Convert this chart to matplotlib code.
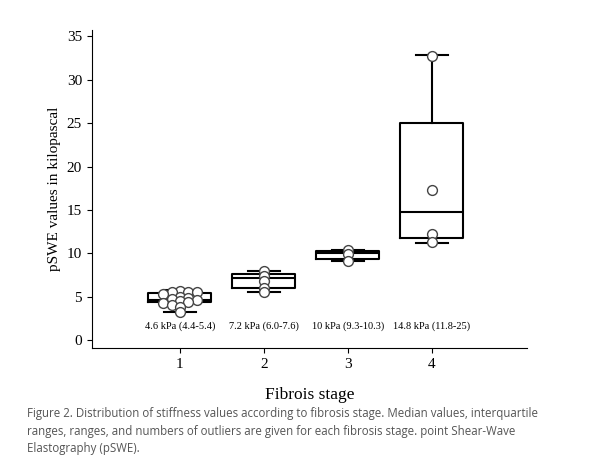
import numpy as np
import matplotlib.pyplot as plt

stages = [1, 2, 3, 4]
medians = [4.6, 7.2, 10.0, 14.8]
q1 = [4.4, 6.0, 9.3, 11.8]
q3 = [5.4, 7.6, 10.3, 25.0]
wlo = [3.2, 5.5, 9.1, 11.2]
whi = [5.8, 8.0, 10.4, 32.8]
labels = ['4.6 kPa (4.4-5.4)', '7.2 kPa (6.0-7.6)', '10 kPa (9.3-10.3)', '14.8 kPa (11.8-25)']
points = [
    [5.7, 5.6, 5.6, 5.5, 5.3, 5.0, 4.9, 4.7, 4.6, 4.5, 4.4, 4.3, 4.1, 3.8, 3.2],
    [8.0, 7.4, 6.8, 6.0, 5.5],
    [10.4, 9.9, 9.1],
    [32.7, 17.3, 12.2, 11.3],
]
caption = ('Figure 2. Distribution of stiffness values according to fibrosis stage. Median values, interquartile\n'
           'ranges, ranges, and numbers of outliers are given for each fibrosis stage. point Shear-Wave\n'
           'Elastography (pSWE).')


def swarm(vals, r=0.5, dx=0.1):
    # simple beeswarm: place each point at the closest free x offset
    placed = []
    out = []
    for v in vals:
        for k in range(40):
            off = (k + 1) // 2 * dx * (1 if k % 2 else -1) if k else 0.0
            if all((off - o) ** 2 / dx ** 2 + (v - w) ** 2 / r ** 2 >= 1 for o, w in placed):
                break
        placed.append((off, v))
        out.append(off)
    return np.array(out)


fig = plt.figure(figsize=(6, 4.71), dpi=100)
ax = fig.add_axes([0.153, 0.261, 0.725, 0.675])
serif = ['Liberation Serif', 'DejaVu Serif']

stats = [dict(med=m, q1=a, q3=b, whislo=lo, whishi=hi, fliers=[])
         for m, a, b, lo, hi in zip(medians, q1, q3, wlo, whi)]
ax.bxp(stats, positions=stages, widths=0.75, showfliers=False,
       boxprops=dict(color='black', lw=1.5), medianprops=dict(color='black', lw=1.5),
       whiskerprops=dict(color='black', lw=1.5), capprops=dict(color='black', lw=1.5),
       capwidths=0.38)
for s, vals in zip(stages, points):
    ax.scatter(s + swarm(vals), vals, s=50, facecolor='white', edgecolor='#444444', lw=1, zorder=3)
for s, t in zip(stages, labels):
    ax.text(s, 1.6, t, ha='center', va='center', fontsize=7.5, family=serif)

ax.set_xlim(-0.05, 5.13)
ax.set_ylim(-0.9, 35.7)
ax.set_yticks(range(0, 36, 5))
ax.set_xticks(stages)
for sp in ['top', 'right']:
    ax.spines[sp].set_visible(False)
ax.tick_params(labelsize=11)
for t in ax.get_xticklabels() + ax.get_yticklabels():
    t.set_family(serif)
ax.set_ylabel('pSWE values in kilopascal', fontsize=11, family=serif)
ax.set_xlabel('Fibrois stage', fontsize=12.5, family=serif, labelpad=12)

fig.text(0.045, 0.135, caption, fontsize=8.3, color='#555555', va='top', ha='left',
         family=['Open Sans', 'DejaVu Sans'], linespacing=1.45)
fig.savefig('out.png', dpi=100)
